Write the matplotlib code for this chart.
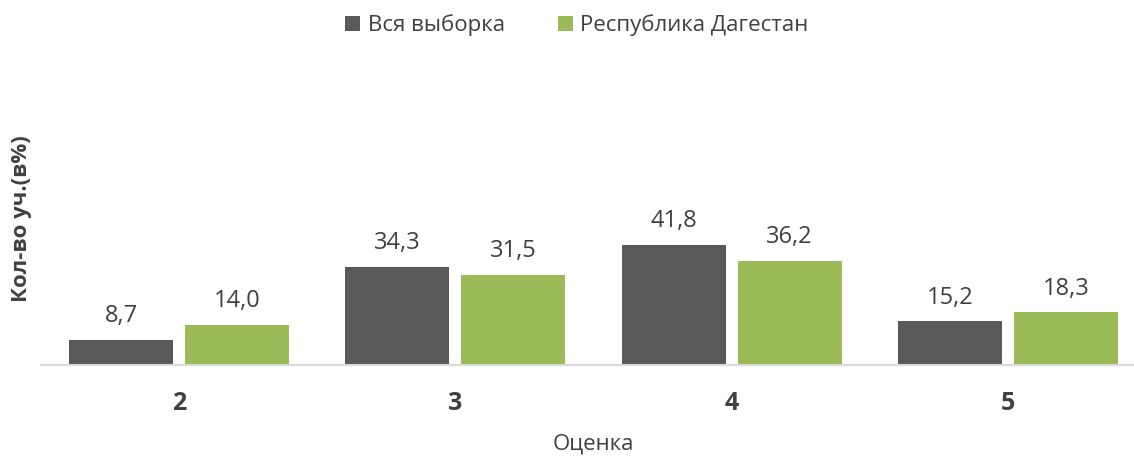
import numpy as np
import matplotlib.pyplot as plt

plt.rcParams['font.family'] = ['Open Sans', 'DejaVu Sans']

# --- Data ---
categories = ['2', '3', '4', '5']
all_sample = [8.7, 34.3, 41.8, 15.2]
dagestan = [14.0, 31.5, 36.2, 18.3]
series_names = ['Вся выборка', 'Республика Дагестан']

DARK = '#595959'
GREEN = '#9BBB59'
TEXT = '#404040'

fig = plt.figure(figsize=(11.34, 4.57), dpi=100)
# axes run slightly past the right edge, as in the source
ax = fig.add_axes([41 / 1134, (457 - 365) / 457, 1105 / 1134, 287 / 457])

x = np.arange(len(categories))
w = 0.376
gap = 0.022
b1 = ax.bar(x - w / 2 - gap, all_sample, w, color=DARK, label=series_names[0])
b2 = ax.bar(x + w / 2 + gap, dagestan, w, color=GREEN, label=series_names[1])

for bars, vals in ((b1, all_sample), (b2, dagestan)):
    for bar, v in zip(bars, vals):
        ax.text(bar.get_x() + bar.get_width() / 2, v + 6.2, f'{v:.1f}'.replace('.', ','),
                ha='center', va='baseline', fontsize=17, color=TEXT)

ax.set_xlim(-0.5, 3.5)
ax.set_ylim(0, 100)
ax.set_xticks(x)
ax.set_xticklabels(categories, fontsize=18, fontweight='bold', color=TEXT)
ax.tick_params(axis='x', length=0, pad=19)
ax.set_yticks([])

for side in ('top', 'right', 'left'):
    ax.spines[side].set_visible(False)
ax.spines['bottom'].set_color('#D9D9D9')
ax.spines['bottom'].set_linewidth(1.5)

fig.text(593 / 1134, 1 - 444 / 457, 'Оценка', ha='center', va='center',
         fontsize=16, color=TEXT)
fig.text(22 / 1134, 1 - 219 / 457, 'Кол-во уч.(в%)', rotation=90, ha='center', va='center',
         fontsize=16, fontweight='bold', color=TEXT)

fig.legend(loc='center', bbox_to_anchor=(577 / 1134, 1 - 25 / 457), ncol=2, frameon=False,
           fontsize=16, labelcolor=TEXT, handlelength=0.65, handleheight=0.65,
           handletextpad=0.35, columnspacing=2.4)

fig.savefig('out.png', dpi=100)
